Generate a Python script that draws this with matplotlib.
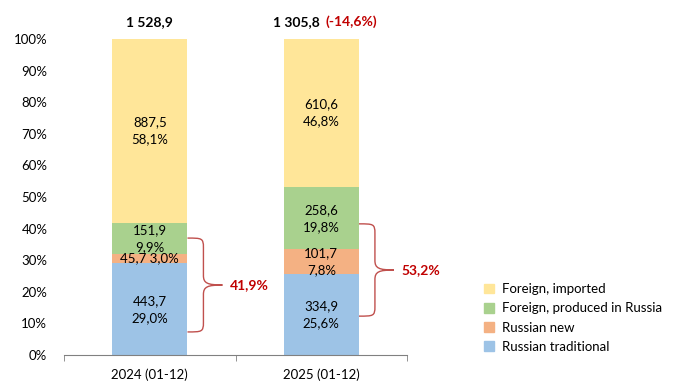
import matplotlib.pyplot as plt
from matplotlib.path import Path
from matplotlib.patches import PathPatch, Patch

plt.rcParams['font.family'] = ['Lato', 'DejaVu Sans']

# data
periods = ["2024 (01-12)", "2025 (01-12)"]
totals = ["1 528,9", "1 305,8"]
total_change = "(-14,6%)"
series = ["Russian traditional", "Russian new", "Foreign, produced in Russia", "Foreign, imported"]
volumes = {
    "Russian traditional": ["443,7", "334,9"],
    "Russian new": ["45,7", "101,7"],
    "Foreign, produced in Russia": ["151,9", "258,6"],
    "Foreign, imported": ["887,5", "610,6"],
}
shares = {
    "Russian traditional": [29.0, 25.6],
    "Russian new": [3.0, 7.8],
    "Foreign, produced in Russia": [9.9, 19.8],
    "Foreign, imported": [58.1, 46.8],
}
russian_share = ["41,9%", "53,2%"]
brace_spans = [(7.3, 37.0), (12.3, 41.5)]

colors = {
    "Russian traditional": "#9DC3E6",
    "Russian new": "#F4B183",
    "Foreign, produced in Russia": "#A9D18E",
    "Foreign, imported": "#FFE699",
}
red = "#C00000"
brace_col = "#C0504D"

fig = plt.figure(figsize=(6.79, 3.86), dpi=100)
ax = fig.add_axes([64 / 679, 1 - 355 / 386, 343 / 679, 316 / 386])

x = list(range(len(periods)))
width = 0.44
bottom = [0.0, 0.0]
for s in series:
    ax.bar(x, shares[s], width, bottom=bottom, color=colors[s], label=s)
    for i in x:
        mid = bottom[i] + shares[s][i] / 2
        pct = f"{shares[s][i]:.1f}%".replace(".", ",")
        if shares[s][i] < 5:
            txt = f"{volumes[s][i]} {pct}"
        else:
            txt = f"{volumes[s][i]}\n{pct}"
        ax.text(i, mid, txt, ha="center", va="center", fontsize=9.5,
                linespacing=1.5, color="black")
    bottom = [b + v for b, v in zip(bottom, shares[s])]

# totals on top
ax.text(0, 105.4, totals[0], ha="center", va="center", fontsize=10,
        fontweight="bold", clip_on=False)
ax.annotate(totals[1], (1, 105.4), xytext=(-1, 0), textcoords="offset points",
            ha="right", va="center", fontsize=10, fontweight="bold",
            annotation_clip=False)
ax.annotate(total_change, (1, 105.4), xytext=(3, 0), textcoords="offset points",
            ha="left", va="center", fontsize=10, fontweight="bold", color=red,
            annotation_clip=False)


def brace(ax, x0, y0, y1, dx1=0.093, dx2=0.204, r=3.0):
    xv = x0 + dx1
    xt = x0 + dx2
    ym = (y0 + y1) / 2
    verts = [
        (x0, y1), (xv - (xv - x0) * 0.1, y1), (xv, y1), (xv, y1 - r),
        (xv, ym + r),
        (xv, ym + r * 0.2), (xv + (xt - xv) * 0.2, ym), (xt, ym),
        (xv + (xt - xv) * 0.2, ym), (xv, ym - r * 0.2), (xv, ym - r),
        (xv, y0 + r),
        (xv, y0), (xv - (xv - x0) * 0.1, y0), (x0, y0),
    ]
    codes = [Path.MOVETO, Path.CURVE4, Path.CURVE4, Path.CURVE4,
             Path.LINETO,
             Path.CURVE4, Path.CURVE4, Path.CURVE4,
             Path.CURVE4, Path.CURVE4, Path.CURVE4,
             Path.LINETO,
             Path.CURVE4, Path.CURVE4, Path.CURVE4]
    ax.add_patch(PathPatch(Path(verts, codes), fill=False, edgecolor=brace_col,
                           lw=1.0, clip_on=False))
    return xt, ym


for i in x:
    lo, hi = brace_spans[i]
    xt, ym = brace(ax, i + width / 2, lo, hi)
    ax.text(xt + 0.046, ym, russian_share[i], ha="left", va="center",
            fontsize=10, fontweight="bold", color=red)

ax.set_xlim(-0.5, 1.5)
ax.set_ylim(0, 100)
ax.set_yticks(range(0, 101, 10))
ax.set_yticklabels([f"{v}%" for v in range(0, 101, 10)], fontsize=9.5)
ax.tick_params(axis="y", length=0, pad=12)
ax.set_xticks(x)
ax.set_xticklabels(periods, fontsize=9.5)
ax.set_xticks([-0.5, 0.5, 1.5], minor=True)
ax.tick_params(axis="x", which="major", length=0, pad=10)
ax.tick_params(axis="x", which="minor", length=4, color="#808080")
for side in ["top", "right", "left"]:
    ax.spines[side].set_visible(False)
ax.spines["bottom"].set_color("#808080")

handles = [Patch(color=colors[s]) for s in reversed(series)]
fig.legend(handles, list(reversed(series)), loc="center left",
           bbox_to_anchor=(472 / 679, 1 - 318 / 386), frameon=False,
           fontsize=9.5, handlelength=0.75, handleheight=0.75,
           handletextpad=0.6, labelspacing=0.55)

fig.savefig("out.png", dpi=100)
